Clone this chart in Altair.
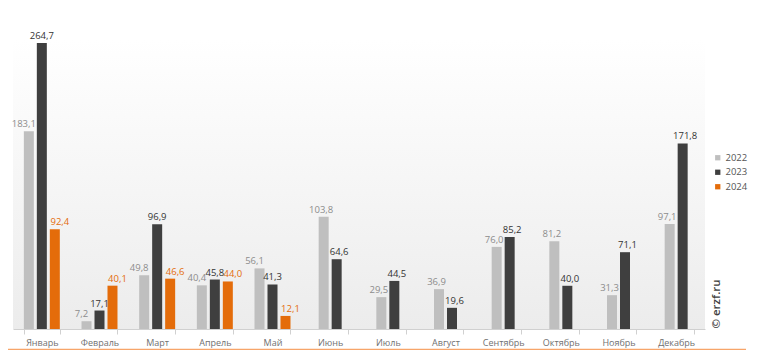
import altair as alt
import pandas as pd

months = ["Январь", "Февраль", "Март", "Апрель", "Май", "Июнь", "Июль",
          "Август", "Сентябрь", "Октябрь", "Ноябрь", "Декабрь"]
years = ["2022", "2023", "2024"]
v2022 = [183.1, 7.2, 49.8, 40.4, 56.1, 103.8, 29.5, 36.9, 76.0, 81.2, 31.3, 97.1]
v2023 = [264.7, 17.1, 96.9, 45.8, 41.3, 64.6, 44.5, 19.6, 85.2, 40.0, 71.1, 171.8]
v2024 = [92.4, 40.1, 46.6, 44.0, 12.1]

bar_colors = ["#bfbfbf", "#3f3f3f", "#e46c0a"]
text_colors = ["#8c8c8c", "#333333", "#e46c0a"]

rows = []
for series, vals in zip(years, [v2022, v2023, v2024]):
    for m, v in zip(months, vals):
        rows.append({"month": m, "year": series, "value": v,
                     "label": f"{v:.1f}".replace(".", ","),
                     "group": "three" if months.index(m) < 5 else "two"})
df = pd.DataFrame(rows)
df3 = df[df.group == "three"]
df2 = df[df.group == "two"]

W, H = 692, 289
ymax = 267.5

xenc = alt.X("month:N", sort=months, title=None,
             scale=alt.Scale(paddingInner=0.376, paddingOuter=0.188),
             axis=alt.Axis(labelAngle=0, labelFont="Open Sans", labelFontSize=9,
                           labelColor="#707070", domainColor="#d0d0d0",
                           tickColor="#d0d0d0", tickSize=5, tickBand="extent",
                           labelPadding=4))
yenc = alt.Y("value:Q", scale=alt.Scale(domain=[0, ymax], nice=False), axis=None)
color = alt.Color("year:N", scale=alt.Scale(domain=years, range=bar_colors),
                  legend=alt.Legend(title=None, orient="none", legendX=700, legendY=113,
                                    symbolType="square", symbolSize=28,
                                    labelFont="Open Sans", labelFontSize=9.5,
                                    labelColor="#555555", rowPadding=3.5,
                                    labelOffset=3, symbolStrokeWidth=0))
tfill = alt.Fill("year:N", scale=alt.Scale(domain=years, range=text_colors), legend=None)

def layer_pair(data, dom, po):
    off = alt.XOffset("year:N", sort=dom,
                      scale=alt.Scale(domain=dom, paddingInner=0.23, paddingOuter=po))
    base = alt.Chart(data)
    bars = base.mark_bar().encode(x=xenc, xOffset=off, y=yenc, color=color)
    texts = base.mark_text(baseline="bottom", dy=-2, font="Open Sans", fontSize=9.5).encode(
        x=xenc, xOffset=off, y=yenc, text="label:N", fill=tfill)
    return bars, texts

b3, t3 = layer_pair(df3, years, 0)
b2, t2 = layer_pair(df2, ["2022", "2023"], 0.5)

bg = alt.Chart(pd.DataFrame({"a": [0]})).mark_rect(
    fill=alt.Gradient(gradient="linear", x1=0, y1=0, x2=0, y2=1,
                      stops=[alt.GradientStop(offset=0, color="#ffffff"),
                             alt.GradientStop(offset=1, color="#ececec")])
).encode(x=alt.value(0), x2=alt.value(W), y=alt.value(0), y2=alt.value(H))

line = alt.Chart(pd.DataFrame({"a": [0]})).mark_rule(
    color="#f7a56a", strokeWidth=1.5
).encode(x=alt.value(-5), x2=alt.value(733), y=alt.value(309.5))

mark = alt.Chart(pd.DataFrame({"t": ["© erzf.ru"]})).mark_text(
    angle=270, font="Open Sans", fontSize=11.5, fontWeight=600, color="#404040",
    align="center", baseline="middle"
).encode(text="t:N", x=alt.value(704), y=alt.value(264))

chart = alt.layer(bg, b3, t3, b2, t2, line, mark).resolve_scale(
    xOffset="independent"
).properties(
    width=W, height=H,
    autosize=alt.AutoSizeParams(type="none"),
    padding={"left": 5, "top": 32, "right": 45, "bottom": 21},
).configure_view(stroke=None)

chart.save("out.html", embed_options={"renderer": "svg", "actions": False})
